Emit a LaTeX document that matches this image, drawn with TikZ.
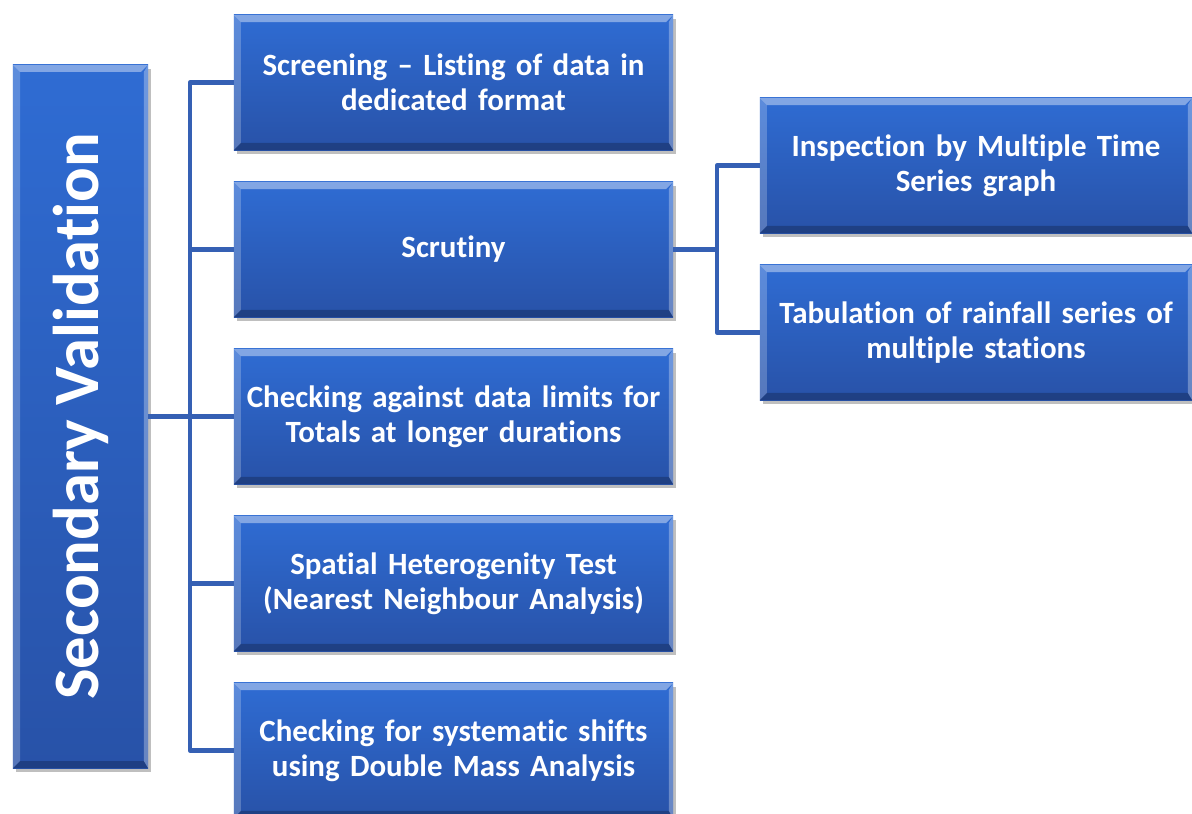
\documentclass[tikz,border=0pt]{standalone}
\usepackage{fontspec}
\setmainfont{Carlito}[Ligatures={NoCommon,NoRare}]
\usetikzlibrary{shadows,calc}
\definecolor{boxtop}{HTML}{2F6CD3}
\definecolor{boxbot}{HTML}{2852A8}
\definecolor{linkc}{HTML}{3560B4}
\tikzset{
  bevelbox/.style={
    rectangle, inner sep=0pt, align=center, text=white,
    font=\bfseries\fontsize{22}{25}\selectfont,
    top color=boxtop, bottom color=boxbot,
    drop shadow={shadow xshift=2pt, shadow yshift=-3pt, fill=black, opacity=0.25},
    path picture={
      \fill[white,opacity=0.40] (path picture bounding box.north west) -- (path picture bounding box.north east)
        -- ([xshift=-5pt,yshift=-5pt]path picture bounding box.north east) -- ([xshift=5pt,yshift=-5pt]path picture bounding box.north west) -- cycle;
      \fill[white,opacity=0.22] (path picture bounding box.north west) -- ([xshift=5pt,yshift=-5pt]path picture bounding box.north west)
        -- ([xshift=5pt,yshift=5pt]path picture bounding box.south west) -- (path picture bounding box.south west) -- cycle;
      \fill[white,opacity=0.30] (path picture bounding box.north east) -- ([xshift=-3pt,yshift=-5pt]path picture bounding box.north east)
        -- ([xshift=-3pt,yshift=5pt]path picture bounding box.south east) -- (path picture bounding box.south east) -- cycle;
      \fill[black,opacity=0.22] (path picture bounding box.south west) -- (path picture bounding box.south east)
        -- ([xshift=-3pt,yshift=5pt]path picture bounding box.south east) -- ([xshift=5pt,yshift=5pt]path picture bounding box.south west) -- cycle;
    }},
  midbox/.style={bevelbox, minimum width=10.975cm, minimum height=3.375cm, text width=10.9cm},
  rightbox/.style={bevelbox, minimum width=10.8cm, minimum height=3.375cm, text width=10.8cm},
  link/.style={draw=linkc, line width=3.3pt, line join=round}
}
\begin{document}
\begin{tikzpicture}[x=0.025cm,y=-0.025cm]
\useasboundingbox (0,0) rectangle (1192,814);
\node[bevelbox, minimum width=3.375cm, minimum height=17.575cm] (L) at (80.5,416.5)
  {\rotatebox{90}{\fontsize{46}{52}\selectfont Secondary Validation}};
\node[midbox] (m1) at (453.5,82.5) {Screening -- Listing of data in\\dedicated format};
\node[midbox] (m2) at (453.5,249.5) {Scrutiny};
\node[midbox] (m3) at (453.5,416.5) {Checking against data limits for\\Totals at longer durations};
\node[midbox] (m4) at (453.5,583.5) {Spatial Heterogenity Test\\(Nearest Neighbour Analysis)};
\node[midbox] (m5) at (453.5,750.5) {Checking for systematic shifts\\using Double Mass Analysis};
\node[rightbox] (r1) at (976,165.5) {Inspection by Multiple Time\\Series graph};
\node[rightbox] (r2) at (976,332.5) {Tabulation of rainfall series of\\multiple stations};
\coordinate (t1) at (190,416.5);
\coordinate (t2) at (717,249.5);
\draw[link] (m1.west) -| (t1) |- (m5.west);
\draw[link] (L.east) -- (t1);
\draw[link] (t1 |- m2.west) -- (m2.west);
\draw[link] (t1 |- m3.west) -- (m3.west);
\draw[link] (t1 |- m4.west) -- (m4.west);
\draw[link] (r1.west) -| (t2) |- (r2.west);
\draw[link] (m2.east) -- (t2);
\end{tikzpicture}
\end{document}
